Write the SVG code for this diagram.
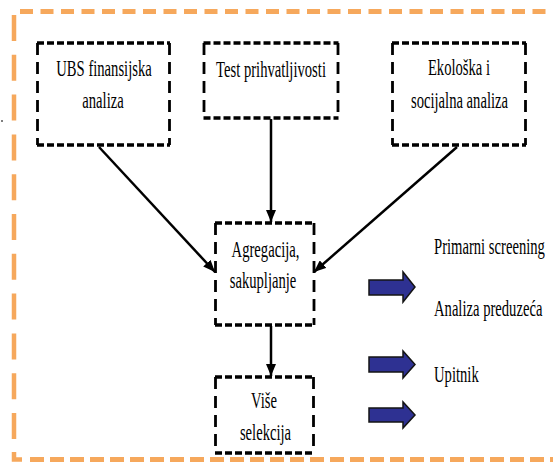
<svg xmlns="http://www.w3.org/2000/svg" width="553" height="462" viewBox="0 0 553 462">
<style>
  .frame { fill: none; stroke: #F6A85C; }
  .bh { fill: none; stroke: #000; stroke-width: 3.5; stroke-dasharray: 7 3; }
  .bv { fill: none; stroke: #000; stroke-width: 2.8; stroke-dasharray: 12 7; }
  .lbl { font-family: "Liberation Serif", "Times New Roman", serif; font-size: 24px; fill: #000; }
  .c { text-anchor: middle; }
  .conn { fill: none; stroke: #000; stroke-width: 2.5; }
  .big { fill: #2E3192; stroke: #141414; stroke-width: 1.5; stroke-linejoin: miter; }
</style>
<defs>
  <marker id="ah" markerUnits="userSpaceOnUse" markerWidth="12" markerHeight="10" refX="12" refY="5" orient="auto">
    <path d="M0,0 L12,5 L0,10 z" fill="#000"/>
  </marker>
</defs>
<rect width="553" height="462" fill="#fff"/>
<g id="frame">
  <line class="frame" x1="20" y1="11.5" x2="553" y2="11.5" stroke-width="5" stroke-dasharray="13 7.5"/>
  <line class="frame" x1="14" y1="15" x2="14" y2="445" stroke-width="4.5" stroke-dasharray="26 13.8"/>
  <path class="frame" d="M14,452 V459.5 H22" stroke-width="4.5"/>
  <line class="frame" x1="30" y1="459.5" x2="553" y2="459.5" stroke-width="5" stroke-dasharray="14 6"/>
  <circle cx="2" cy="121" r="1" fill="#555"/>
</g>
<g id="connectors">
  <line class="conn" x1="99" y1="147" x2="215" y2="272" marker-end="url(#ah)"/>
  <line class="conn" x1="271" y1="119" x2="271" y2="222" marker-end="url(#ah)"/>
  <line class="conn" x1="457" y1="147" x2="314" y2="272" marker-end="url(#ah)"/>
  <line class="conn" x1="271" y1="326" x2="271" y2="376" marker-end="url(#ah)"/>
</g>
<g id="ubs">
  <path class="bh" d="M37,43 H170 M37,145 H170"/>
  <path class="bv" d="M37.5,43 V145 M169.5,43 V145"/>
  <text class="lbl c" transform="translate(104,76) scale(0.61,1)">UBS finansijska</text>
  <text class="lbl c" transform="translate(103,108) scale(0.61,1)">analiza</text>
</g>
<g id="test">
  <path class="bh" d="M203.5,43 H338.5 M203.5,118 H338.5"/>
  <path class="bv" d="M204,43 V118 M338,43 V118"/>
  <text class="lbl c" transform="translate(271,77) scale(0.61,1)">Test prihvatljivosti</text>
</g>
<g id="eko">
  <path class="bh" d="M392,43 H526 M392,145 H526"/>
  <path class="bv" d="M392.5,43 V145 M525.5,43 V145"/>
  <text class="lbl c" transform="translate(459,75) scale(0.61,1)">Ekološka i</text>
  <text class="lbl c" transform="translate(459.5,108) scale(0.61,1)">socijalna analiza</text>
</g>
<g id="agregacija">
  <path class="bh" d="M215,223 H315 M215,325 H315"/>
  <path class="bv" d="M215.5,223 V325 M314,223 V325"/>
  <text class="lbl c" transform="translate(265.5,257) scale(0.61,1)">Agregacija,</text>
  <text class="lbl c" transform="translate(263,288) scale(0.61,1)">sakupljanje</text>
</g>
<g id="vise">
  <path class="bh" d="M215,377 H314 M215,453 H314"/>
  <path class="bv" d="M215.5,377 V453 M313.5,377 V453"/>
  <text class="lbl c" transform="translate(264,408) scale(0.61,1)">Više</text>
  <text class="lbl c" transform="translate(265.5,440) scale(0.61,1)">selekcija</text>
</g>
<g id="legend">
  <path class="big" d="M369,280 H403 V272 L415,287 L403,302 V295 H369 Z"/>
  <path class="big" d="M369,357 H403 V351 L415,364.5 L403,378 V372 H369 Z"/>
  <path class="big" d="M369,408 H403 V402 L415,415 L403,428 V422 H369 Z"/>
  <text class="lbl" transform="translate(434,254) scale(0.61,1)">Primarni screening</text>
  <text class="lbl" transform="translate(434,316) scale(0.61,1)">Analiza preduzeća</text>
  <text class="lbl" transform="translate(434,382) scale(0.61,1)">Upitnik</text>
</g>
</svg>
